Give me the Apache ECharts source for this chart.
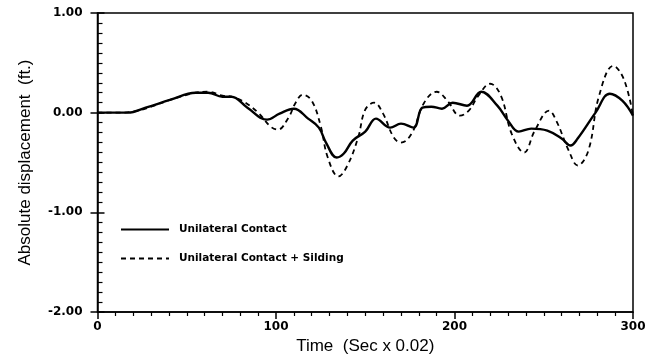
<!DOCTYPE html>
<html>
<head>
<meta charset="utf-8">
<script src="https://cdn.jsdelivr.net/npm/echarts@6/dist/echarts.min.js"></script>
<style>
  html, body { margin: 0; padding: 0; background: #fff; }
  #chart { width: 655px; height: 356px; }
</style>
</head>
<body>
<div id="chart"></div>
<script>
// time steps (sec x 0.02) and displacement (ft.)
var contactTime = [0, 10, 17, 27, 41, 55, 62, 70, 75, 84, 95, 102, 110, 118, 124, 128, 134, 138, 143, 150,
  156, 164, 170, 177, 182, 187, 193, 199, 207, 215, 224, 230, 236, 243, 252, 260, 265, 269, 279, 287, 294, 300];
var contactDisp = [0, 0, 0, 0.05, 0.13, 0.20, 0.20, 0.16, 0.16, 0.05, -0.07, -0.01, 0.04, -0.06, -0.15, -0.30, -0.45, -0.41, -0.28, -0.19,
  -0.06, -0.15, -0.11, -0.15, 0.05, 0.06, 0.04, 0.10, 0.07, 0.21, 0.07, -0.08, -0.19, -0.16, -0.18, -0.26, -0.33, -0.26, 0.00, 0.19, 0.12, -0.03];

var slidingTime = [0, 10, 20, 30, 41, 55, 62, 70, 75, 81, 90, 97, 101, 107, 111, 115, 120, 125, 129, 135, 140, 146, 150,
  155, 160, 166, 170, 176, 183, 190, 196, 203, 208, 213, 220, 226, 232, 239, 245, 253, 257, 264, 269, 275, 281, 289, 295, 300];
var slidingDisp = [0, 0, 0.01, 0.06, 0.13, 0.20, 0.21, 0.17, 0.16, 0.12, 0.00, -0.14, -0.17, -0.05, 0.10, 0.18, 0.12, -0.13, -0.45, -0.64, -0.53, -0.25, 0.03,
  0.10, -0.01, -0.25, -0.30, -0.21, 0.10, 0.21, 0.12, -0.03, 0.02, 0.16, 0.29, 0.17, -0.21, -0.40, -0.18, 0.02, -0.08, -0.38, -0.53, -0.38, 0.17, 0.47, 0.33, -0.03];

var seriesNames = ['Unilateral Contact', 'Unilateral Contact + Silding'];

function pairs(xs, ys){
	var out = [];
	for(var i = 0; i < xs.length; i++){
		out.push([xs[i], ys[i]]);
	}
	return out;
}

var tickFont = {color: '#000', fontSize: 12, fontWeight: 'bold', fontFamily: 'DejaVu Sans'};
var plotWidth = 655 - 97.5 - 22;

var chart = echarts.init(document.getElementById('chart'), null, {renderer: 'canvas'});
var option = {
	animation: false,
	backgroundColor: '#fff',
	grid: {
		left: 97.5, right: 22, top: 13, bottom: 44,
		outerBoundsMode: 'none',
		show: true, borderColor: '#000', borderWidth: 1.5
	},
	legend: {
		orient: 'vertical',
		left: 115, top: 219,
		itemWidth: 48, itemHeight: 10, itemGap: 18,
		itemStyle: {opacity: 0},
		textStyle: {color: '#000', fontSize: 10.5, fontWeight: 'bold', fontFamily: 'DejaVu Sans', padding: [0, 0, 0, 5]},
		data: seriesNames
	},
	xAxis: {
		type: 'value', min: 0, max: 300, interval: 100,
		name: 'Time  (Sec x 0.02)', nameLocation: 'middle', nameGap: 25,
		nameTextStyle: {color: '#000', fontSize: 17, fontFamily: 'Liberation Sans'},
		axisLine: {onZero: false, lineStyle: {color: '#000', width: 1.5}},
		axisTick: {show: true, length: 7, lineStyle: {color: '#000', width: 1.5}},
		minorTick: {show: true, splitNumber: 10, length: 4, lineStyle: {color: '#000', width: 1.2}},
		axisLabel: Object.assign({margin: 9}, tickFont),
		splitLine: {show: false}
	},
	yAxis: [{
		type: 'value', min: -2, max: 1, interval: 1,
		name: 'Absolute displacement  (ft.)', nameLocation: 'middle', nameGap: 64,
		nameTextStyle: {color: '#000', fontSize: 17, fontFamily: 'Liberation Sans'},
		axisLine: {onZero: false, lineStyle: {color: '#000', width: 1.5}},
		axisTick: {show: true, length: 7, lineStyle: {color: '#000', width: 1.5}},
		axisLabel: Object.assign({margin: 15, formatter: function(v){ return v.toFixed(2); }}, tickFont),
		splitLine: {show: false}
	}, {
		// mirrored copy sitting on the left edge so its ticks point into the plot
		type: 'value', min: -2, max: 1, interval: 1, position: 'right', offset: -plotWidth,
		axisLine: {show: false, onZero: false},
		axisTick: {show: true, length: 7, lineStyle: {color: '#000', width: 1.5}},
		minorTick: {show: true, splitNumber: 10, length: 5, lineStyle: {color: '#000', width: 1.2}},
		axisLabel: {show: false},
		splitLine: {show: false}
	}],
	series: [{
		name: seriesNames[0],
		type: 'line',
		smooth: 0.4,
		symbol: 'none',
		data: pairs(contactTime, contactDisp),
		lineStyle: {color: '#000', width: 2.4},
		itemStyle: {color: '#000'},
		z: 3
	}, {
		name: seriesNames[1],
		type: 'line',
		smooth: 0.4,
		symbol: 'none',
		data: pairs(slidingTime, slidingDisp),
		lineStyle: {color: '#000', width: 1.8, type: [5, 4]},
		itemStyle: {color: '#000'},
		z: 2
	}]
};
chart.setOption(option);
</script>
</body>
</html>
